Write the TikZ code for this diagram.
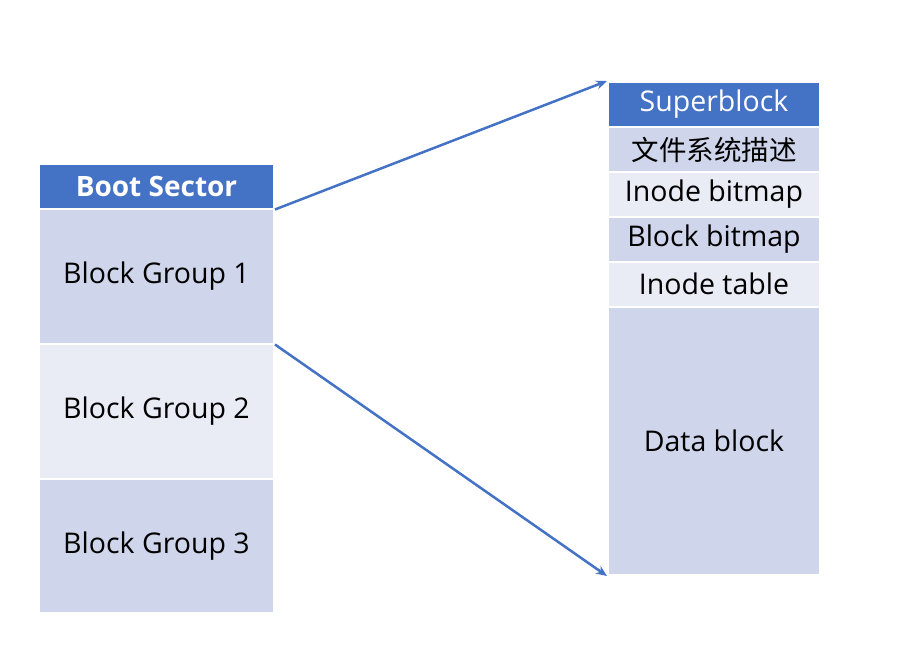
\documentclass[tikz,border=0pt]{standalone}
\usepackage{fontspec}
\setmainfont{Open Sans}
\newfontfamily\cjk{Noto Sans CJK SC}
\usetikzlibrary{arrows.meta}
\definecolor{hdr}{HTML}{4472C4}
\definecolor{rowA}{HTML}{CFD5EA}
\definecolor{rowB}{HTML}{E9EBF5}
\tikzset{
  cell/.style={draw=white, line width=2pt, anchor=north west, inner sep=0pt, font=\fontsize{28.5}{32}\selectfont, text=black},
  hcell/.style={cell, fill=hdr, text=white},
  conn/.style={draw=hdr, line width=2.5pt, -{Stealth[length=11pt,width=9pt]}}
}
\begin{document}
\begin{tikzpicture}[x=1pt,y=-1pt]
\useasboundingbox[fill=white] (0,0) rectangle (899,648);
% left column
\node[hcell, minimum width=235pt, minimum height=44.5pt, font=\fontsize{28}{32}\selectfont\bfseries] (boot) at (38,163) {Boot Sector};
\node[cell, fill=rowA, minimum width=235pt, minimum height=135pt] (bg1) at (38,207.5) {Block Group 1};
\node[cell, fill=rowB, minimum width=235pt, minimum height=135pt] (bg2) at (38,342.5) {Block Group 2};
\node[cell, fill=rowA, minimum width=235pt, minimum height=134.5pt] (bg3) at (38,477.5) {Block Group 3};
% right column
\node[hcell, minimum width=212pt, minimum height=45pt] (sb) at (607,81) {Superblock};
\node[cell, fill=rowA, minimum width=212pt, minimum height=45pt, font=\fontsize{27.5}{32}\selectfont\cjk] (fsd) at (607,126) {文件系统描述};
\node[cell, fill=rowB, minimum width=212pt, minimum height=44.5pt] (ib) at (607,171) {Inode bitmap};
\node[cell, fill=rowA, minimum width=212pt, minimum height=45pt] (bb) at (607,215.5) {Block bitmap};
\node[cell, fill=rowB, minimum width=212pt, minimum height=45.5pt] (it) at (607,260.5) {Inode table};
\node[cell, fill=rowA, minimum width=212pt, minimum height=268pt] (db) at (607,306) {Data block};
% connectors
\draw[conn] (boot.south east) -- (sb.north west);
\draw[conn] (bg1.south east) -- (db.south west);
\end{tikzpicture}
\end{document}
